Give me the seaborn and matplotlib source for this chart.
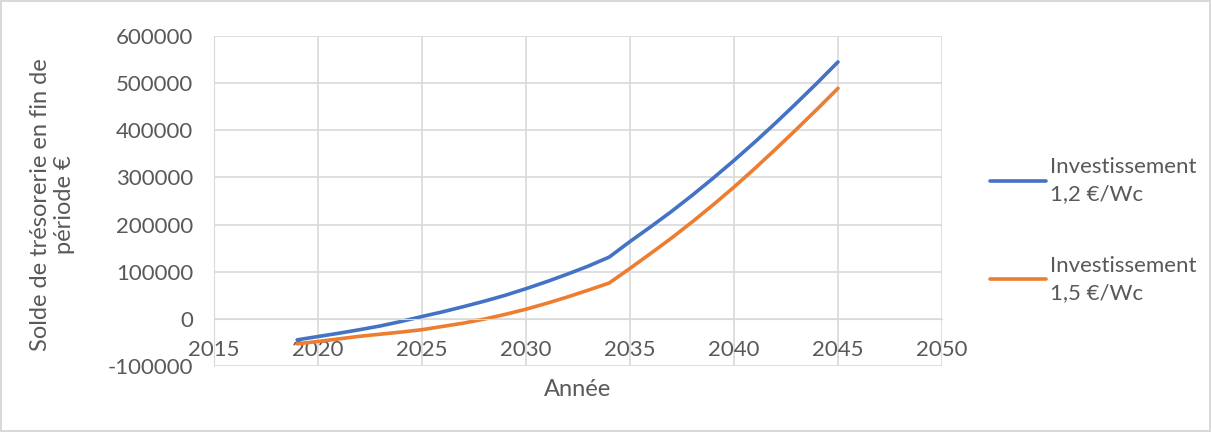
import matplotlib
matplotlib.use('Agg')
import matplotlib.pyplot as plt
import seaborn as sns
import pandas as pd

# years of the simulation
annees = list(range(2019, 2046))

# cash balance at end of period, investment 1.2 EUR/Wc
solde_12 = [-44500, -37500, -30500, -23000, -15000, -5500, 5000, 15000, 26000,
            37500, 50000, 64000, 79000, 95000, 112000, 131000, 164000, 195500,
            228000, 262500, 298500, 336000, 375000, 415500, 457500, 500500, 545000]

# cash balance at end of period, investment 1.5 EUR/Wc
solde_15 = [-53000, -48000, -42500, -37000, -32500, -28000, -23000, -16000, -9000,
            -500, 9500, 20500, 33000, 46500, 61000, 76000, 107000, 139000,
            171500, 206000, 242000, 279500, 319000, 360000, 402000, 445000, 489000]

labels = ["Investissement\n1,2 €/Wc", "Investissement\n1,5 €/Wc"]
couleurs = ["#4472C4", "#ED7D31"]

df = pd.DataFrame({"Année": annees, labels[0]: solde_12, labels[1]: solde_15})

sns.set_style('white')
plt.rcParams['font.family'] = ['Lato', 'DejaVu Sans']
plt.rcParams['axes.unicode_minus'] = False
gris = '#595959'
grille = '#D9D9D9'

fig = plt.figure(figsize=(12.11, 4.32), dpi=100)
fig.patch.set_edgecolor(grille)
fig.patch.set_linewidth(1.5)
ax = fig.add_axes([214/1211, 1-366/432, 728/1211, 330/432])

for lab, col in zip(labels, couleurs):
    sns.lineplot(x="Année", y=lab, data=df, ax=ax, color=col, linewidth=2.6, label=lab)

ax.set_xlim(2015, 2050)
ax.set_ylim(-100000, 600000)
ax.set_xticks(range(2015, 2051, 5))
ax.set_yticks(range(-100000, 600001, 100000))
ax.grid(True, color=grille, linewidth=1.2)
ax.set_axisbelow(True)

# horizontal axis crosses at 0, like the Excel original
ax.spines['bottom'].set_position(('data', 0))
ax.spines['bottom'].set_color(grille)
ax.spines['left'].set_color(grille)
ax.spines['top'].set_visible(False)
ax.spines['right'].set_visible(False)
ax.tick_params(length=0, labelsize=16, colors=gris)
ax.tick_params(axis='x', pad=15)
ax.tick_params(axis='y', pad=15)

ax.set_xlabel("")
ax.set_ylabel("Solde de trésorerie en fin de\npériode €", fontsize=17, color=gris,
              multialignment='center')
ax.yaxis.set_label_coords(-0.191, 0.49)
fig.text(578/1211, 1-390/432, "Année", ha='center', va='center', fontsize=17, color=gris)

ax.get_legend().remove()
h, l = ax.get_legend_handles_labels()
leg = fig.legend(h, l, loc='center left', bbox_to_anchor=(990/1211, 1-230/432), frameon=False,
                 fontsize=16, labelcolor=gris, labelspacing=2.3, handlelength=2.5,
                 handletextpad=0.2, borderpad=0, borderaxespad=0)
for t in leg.get_texts():
    t.set_linespacing(1.45)

fig.savefig('out.png', dpi=100)
